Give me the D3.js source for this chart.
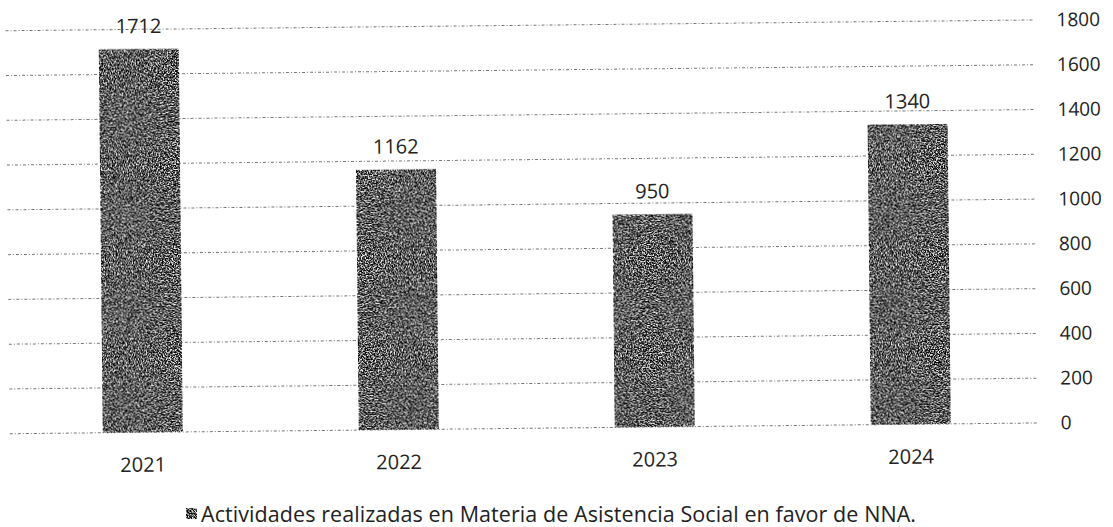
<!DOCTYPE html>
<html>
<head>
<meta charset="utf-8">
<script src="https://cdn.jsdelivr.net/npm/d3@7"></script>
<style>
  html, body { margin: 0; padding: 0; background: #fff; }
  svg { display: block; }
  text { font-family: "Open Sans", "Liberation Sans", sans-serif; fill: #222; }
</style>
</head>
<body>
<svg id="chart" width="1113" height="527"></svg>
<script>
const years = ["2021", "2022", "2023", "2024"];
const actividades = [1712, 1162, 950, 1340];
const yTicks = [0, 200, 400, 600, 800, 1000, 1200, 1400, 1600, 1800];
const legendLabel = "Actividades realizadas en Materia de Asistencia Social en favor de NNA.";

const svg = d3.select("#chart");

// speckled grey texture used for the bars and the legend key
const defs = svg.append("defs");
const grain = defs.append("filter").attr("id", "grain")
  .attr("x", 0).attr("y", 0).attr("width", 1).attr("height", 1)
  .attr("color-interpolation-filters", "sRGB");
grain.append("feTurbulence").attr("type", "fractalNoise")
  .attr("baseFrequency", 0.75).attr("numOctaves", 2).attr("seed", 7).attr("result", "noise");
grain.append("feColorMatrix").attr("in", "noise").attr("type", "matrix")
  .attr("values", "3.2 0 0 0 -1.25  3.2 0 0 0 -1.25  3.2 0 0 0 -1.25  0 0 0 0 1")
  .attr("result", "speck");
grain.append("feComposite").attr("in", "speck").attr("in2", "SourceAlpha").attr("operator", "in");

const g = svg.append("g").attr("transform", "rotate(-0.6, 556, 260)");

const x = d3.scaleBand().domain(years).range([13, 1037]).paddingInner(0.6875).paddingOuter(0.34375);
const y = d3.scaleLinear().domain([0, 1800]).range([428, 25]);

// gridlines
g.append("g").selectAll("line").data(yTicks).join("line")
  .attr("x1", 8).attr("x2", 1035)
  .attr("y1", d => y(d)).attr("y2", d => y(d))
  .attr("stroke", "#777").attr("stroke-width", 1)
  .attr("stroke-dasharray", "3,2,1,2");

// right value axis
const yAxis = d3.axisRight(y).tickValues(yTicks).tickFormat(d3.format("d")).tickSize(0).tickPadding(0);
const ya = g.append("g").attr("transform", "translate(1059,0)").call(yAxis);
ya.select(".domain").remove();
ya.selectAll("text").style("font-size", "19px").attr("fill", "#222").attr("dy", "0.32em");

// bars
g.append("g").selectAll("rect").data(years).join("rect")
  .attr("x", d => x(d)).attr("width", x.bandwidth())
  .attr("y", (d, i) => y(actividades[i]))
  .attr("height", (d, i) => y(0) - y(actividades[i]))
  .attr("fill", "#555").attr("filter", "url(#grain)");

// value labels
g.append("g").selectAll("text").data(years).join("text")
  .attr("x", d => x(d) + x.bandwidth() / 2)
  .attr("y", (d, i) => y(actividades[i]) - 16)
  .attr("text-anchor", "middle")
  .style("font-size", "20px")
  .text((d, i) => actividades[i]);

// category axis
const xAxis = d3.axisBottom(x).tickSize(0).tickPadding(0);
const xa = g.append("g").attr("transform", "translate(0,461)").call(xAxis);
xa.select(".domain").remove();
xa.selectAll("text").style("font-size", "20px").attr("fill", "#222").attr("dy", "0.32em");

// legend
const lg = svg.append("g").attr("transform", "translate(186,508)");
lg.append("rect").attr("width", 11).attr("height", 11)
  .attr("fill", "#555").attr("filter", "url(#grain)");
lg.append("text").attr("x", 15).attr("y", 6).attr("dy", "0.35em")
  .style("font-size", "21.5px")
  .attr("textLength", 715).attr("lengthAdjust", "spacing")
  .text(legendLabel);
</script>
</body>
</html>
